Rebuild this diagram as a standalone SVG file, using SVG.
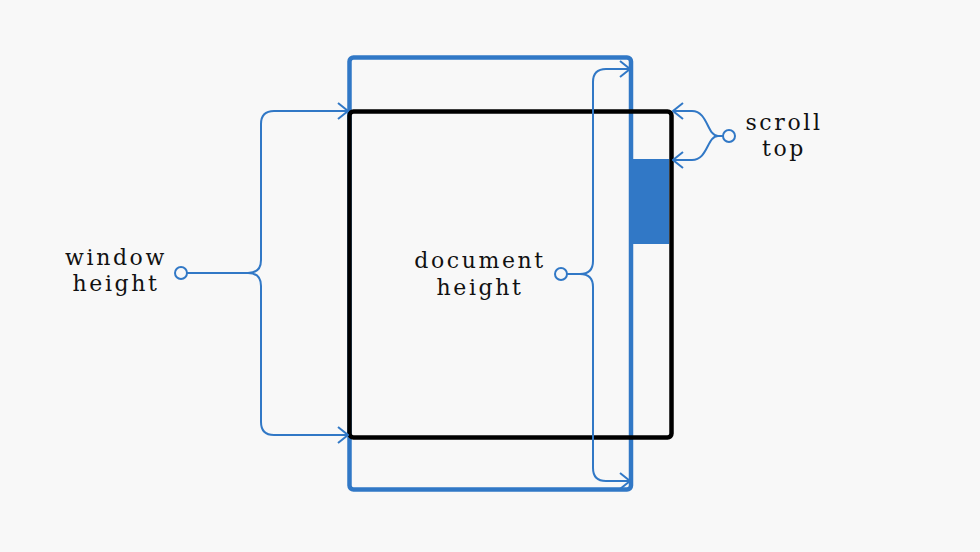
<svg xmlns="http://www.w3.org/2000/svg" width="980" height="552" viewBox="0 0 980 552">
<style>
.conn{fill:none;stroke:#3178c6;stroke-width:2}
.dot{fill:#f8f8f8;stroke:#3178c6;stroke-width:2}
.lbl{font-family:"DejaVu Serif","Liberation Serif",serif;font-size:22px;letter-spacing:2.6px;fill:#111;text-anchor:middle}
</style>
<defs>
<marker id="arr" viewBox="0 0 12 18" refX="11" refY="9" markerWidth="12" markerHeight="18" markerUnits="userSpaceOnUse" orient="auto">
<path d="M1,1 L11,9 L1,17" fill="none" stroke="#3178c6" stroke-width="2"/>
</marker>
</defs>
<rect width="980" height="552" fill="#f8f8f8"/>
<g id="document">
<rect x="349.5" y="57.5" width="281.5" height="432" rx="4" fill="none" stroke="#3178c6" stroke-width="4.5"/>
</g>
<g id="scrollbar">
<rect x="631" y="159" width="38" height="85" fill="#3178c6"/>
</g>
<g id="window">
<rect x="349.5" y="111.5" width="322" height="326" rx="4" fill="none" stroke="#000" stroke-width="4.5"/>
</g>
<g id="connectors">
<path class="conn" d="M187,273 H248 Q261,273 261,260 V124 Q261,111 274,111 H348" marker-end="url(#arr)"/>
<path class="conn" d="M248,273 Q261,273 261,286 V422 Q261,435 274,435 H348" marker-end="url(#arr)"/>
<path class="conn" d="M567,274 H580 Q593,274 593,261 V82 Q593,69 606,69 H630" marker-end="url(#arr)"/>
<path class="conn" d="M580,274 Q593,274 593,287 V468 Q593,481 606,481 H630" marker-end="url(#arr)"/>
<path class="conn" d="M723,136 H718 C707,136 708,111 692,111 H673" marker-end="url(#arr)"/>
<path class="conn" d="M718,136 C707,136 708,160 692,160 H673" marker-end="url(#arr)"/>
</g>
<g id="window-height">
<circle class="dot" cx="181" cy="273" r="6"/>
<text class="lbl" x="116" y="265">window</text>
<text class="lbl" x="116" y="291">height</text>
</g>
<g id="document-height">
<circle class="dot" cx="561" cy="274" r="6"/>
<text class="lbl" x="480" y="268">document</text>
<text class="lbl" x="480" y="295">height</text>
</g>
<g id="scroll-top">
<circle class="dot" cx="729" cy="136" r="6"/>
<text class="lbl" x="784" y="130">scroll</text>
<text class="lbl" x="784" y="156">top</text>
</g>
</svg>
